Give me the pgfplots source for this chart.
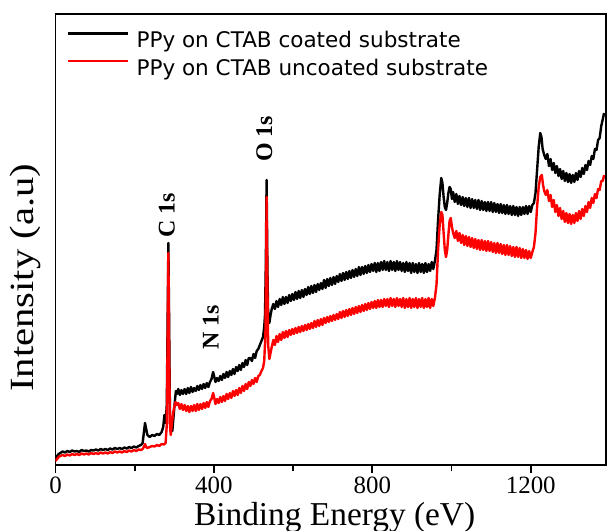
\documentclass[border=0pt]{standalone}
\usepackage{pgfplots}
\pgfplotsset{compat=1.18}
\usepackage{graphicx}
\usepackage{fontspec}
\setmainfont{Liberation Serif}
\newfontfamily\legfont{DejaVu Sans}
\begin{document}
\begin{tikzpicture}
\begin{axis}[
  at={(0,0)}, anchor=origin,
  scale only axis,
  width=550.5bp, height=451bp,
  xmin=0, xmax=1390, ymin=0, ymax=451,
  xtick={0,400,800,1200},
  minor xtick={200,600,1000},
  ytick=\empty,
  xtick pos=bottom,
  tick align=outside,
  major tick length=8bp,
  minor tick length=6bp,
  every tick/.style={line width=1.8bp,black},
  axis line style={line width=1.8bp},
  /pgf/number format/assume math mode=true,
  /pgf/number format/1000 sep={},
  xticklabel style={font=\fontsize{25}{25}\selectfont},
  every axis x label/.style={at={(axis description cs:0.507,0)},anchor=base,yshift=-60bp},
  every axis y label/.style={at={(axis description cs:-0.0554,0.415)},anchor=center,rotate=90},
  xlabel={\fontsize{33.5}{33.5}\selectfont Binding Energy (eV)},
  ylabel={\fontsize{34}{34}\selectfont\scalebox{1.2}[1]{Intensity (a.u)}},
  legend style={at={(axis description cs:0.0154,0.966)},anchor=north west,draw=none,fill=none,
    font=\legfont\fontsize{21.6}{21.6}\selectfont,row sep=10bp,
    nodes={inner sep=0bp}, column sep=7bp},
  legend cell align=left,
  legend image code/.code={\draw[#1,line width=2.4bp] (0bp,7bp)--(60bp,7bp);},
]
\addplot[black,line width=2.4bp,line join=round] coordinates {
(0,7)(4,9)(8,11)(12,12)(18,13.5)(24,12.5)(30,14)(36,13)(42,14.5)(48,13.5)(54,14)(60,13)(66,15)(72,14)(78,14.5)(84,13.5)(90,15)(96,14.5)(102,15.5)(108,14.5)(114,16)(120,15)(126,16)(132,15)(138,16.5)(144,15.5)(150,17)(156,16)(162,17)(168,16)(174,17.5)(180,16.5)(186,18)(192,17)(198,18.5)(204,17.5)(210,19)(216,20)(220,22)(223,32)(226,42)(229,36)(232,30)(238,28)(244,30)(250,29)(256,31)(262,30)(268,33)(272,38)(275,50)(278,42)(281,60)(283,140)(285,222)(287,140)(289,50)(292,38)(295,34)(298,48)(301,62)(304,74)(307,71)(310,76)(314,70)(318,75)(322,71)(326,76)(330,71)(334,77)(338,72)(342,78)(346,73)(350,77)(354,74)(358,79)(362,75)(366,80)(370,76)(374,81)(378,77)(382,82)(386,78)(390,83)(394,86)(398,93)(401,88)(404,83)(408,87)(412,84)(416,89)(420,85)(424,91)(428,87)(432,93)(436,88)(440,94)(444,90)(448,96)(452,91)(456,98)(460,94)(464,100)(468,95)(472,102)(476,98)(480,105)(484,100)(488,107)(492,107)(496,104)(500,111)(504,107)(508,114)(512,116)(516,120)(520,124)(524,128)(527,138)(529,150)(531,200)(533,285)(535,200)(537,148)(540,142)(543,150)(546,156)(550,161)(554,156)(558,164)(562,158)(566,166)(570,160)(574,168)(578,161)(582,168)(586,162)(590,170)(594,164)(598,171)(602,165)(606,173)(610,166)(614,174)(618,167)(622,175)(626,168)(630,176)(634,170)(638,178)(642,171)(646,179)(650,172)(654,180)(658,173)(662,181)(666,175)(670,182)(674,176)(678,185)(682,177)(686,186)(690,179)(694,187)(698,180)(702,188)(706,181)(710,189)(714,183)(718,191)(722,184)(726,192)(730,185)(734,193)(738,186)(742,194)(746,187)(750,195)(754,188)(758,196)(762,189)(766,198)(770,190)(774,198)(778,191)(782,199)(786,192)(790,200)(794,193)(798,201)(802,194)(806,202)(810,193)(814,202)(818,194)(822,203)(826,195)(830,204)(834,195)(838,203)(842,194)(846,204)(850,195)(854,203)(858,194)(862,204)(866,195)(870,203)(874,194)(878,202)(882,193)(886,203)(890,194)(894,202)(898,192)(902,202)(906,193)(910,201)(914,192)(918,202)(922,193)(926,201)(930,192)(934,202)(938,193)(942,201)(946,194)(950,203)(954,196)(958,204)(962,215)(966,245)(970,270)(974,287)(977,282)(980,268)(983,258)(986,255)(989,262)(992,272)(995,278)(998,276)(1001,266)(1004,273)(1008,263)(1012,271)(1016,261)(1020,269)(1024,260)(1028,268)(1032,259)(1036,267)(1040,258)(1044,267)(1048,257)(1052,266)(1056,257)(1060,265)(1064,256)(1068,265)(1072,255)(1076,264)(1080,255)(1084,263)(1088,254)(1092,263)(1096,254)(1100,263)(1104,253)(1108,262)(1112,253)(1116,261)(1120,252)(1124,261)(1128,252)(1132,260)(1136,251)(1140,260)(1144,251)(1148,259)(1152,250)(1156,259)(1160,250)(1164,258)(1168,249)(1172,258)(1176,250)(1180,258)(1184,251)(1188,259)(1192,251)(1196,259)(1200,253)(1204,260)(1208,262)(1212,272)(1216,295)(1220,318)(1224,332)(1227,328)(1230,316)(1234,310)(1238,306)(1242,311)(1246,299)(1250,306)(1254,295)(1258,302)(1262,292)(1266,299)(1270,289)(1274,296)(1278,286)(1282,294)(1286,284)(1290,292)(1294,283)(1298,291)(1302,282)(1306,290)(1310,283)(1314,292)(1318,285)(1322,294)(1326,288)(1330,297)(1334,291)(1338,300)(1342,295)(1346,304)(1350,300)(1354,309)(1358,306)(1362,316)(1366,315)(1370,325)(1374,327)(1378,339)(1382,346)(1385,352)
};
\addlegendentry{PPy on CTAB coated substrate}
\addplot[red,line width=2.4bp,line join=round] coordinates {
(0,4)(4,6)(8,8)(12,9)(18,10)(24,9)(30,10.5)(36,9.5)(42,11)(48,10)(54,11)(60,10)(66,11.5)(72,10.5)(78,11.5)(84,10.5)(90,12)(96,11)(102,12)(108,11)(114,12.5)(120,11.5)(126,12.5)(132,11.5)(138,13)(144,12)(150,13.5)(156,12.5)(162,13.5)(168,12.5)(174,14)(180,13)(186,14.5)(192,13.5)(198,15)(204,14)(210,15.5)(216,15)(220,16)(223,18)(226,21)(229,18)(232,17)(238,18)(244,19)(250,18.5)(256,20)(262,19)(268,21)(274,20.5)(278,22)(281,40)(283,120)(285,212)(287,110)(289,40)(291,30)(294,42)(297,52)(300,58)(303,63)(306,60)(310,62)(314,56)(318,61)(322,55)(326,60)(330,54)(334,59)(338,53)(342,59)(346,54)(350,60)(354,54)(358,61)(362,55)(366,61)(370,56)(374,62)(378,57)(382,63)(386,58)(390,64)(394,66)(398,72)(401,67)(404,61)(408,66)(412,62)(416,68)(420,63)(424,69)(428,64)(432,71)(436,66)(440,72)(444,67)(448,74)(452,69)(456,75)(460,70)(464,77)(468,72)(472,79)(476,74)(480,81)(484,76)(488,83)(492,79)(496,85)(500,81)(504,87)(508,83)(512,89)(516,90)(520,94)(524,97)(527,104)(530,130)(532,200)(533,268)(535,180)(537,120)(540,106)(543,112)(546,118)(550,125)(554,120)(558,129)(562,123)(566,131)(570,125)(574,133)(578,127)(582,134)(586,128)(590,135)(594,130)(598,136)(602,131)(606,137)(610,132)(614,138)(618,133)(622,139)(626,134)(630,140)(634,135)(638,141)(642,136)(646,142)(650,137)(654,144)(658,138)(662,145)(666,139)(670,146)(674,140)(678,147)(682,142)(686,148)(690,143)(694,149)(698,144)(702,150)(706,145)(710,151)(714,146)(718,153)(722,147)(726,154)(730,148)(734,155)(738,149)(742,156)(746,150)(750,157)(754,151)(758,158)(762,152)(766,159)(770,153)(774,160)(778,154)(782,161)(786,155)(790,162)(794,156)(798,163)(802,157)(806,164)(810,157)(814,165)(818,158)(822,165)(826,158)(830,166)(834,159)(838,166)(842,158)(846,167)(850,159)(854,166)(858,158)(862,167)(866,159)(870,166)(874,158)(878,167)(882,157)(886,166)(890,158)(894,167)(898,157)(902,166)(906,158)(910,167)(914,157)(918,166)(922,158)(926,167)(930,157)(934,166)(938,158)(942,167)(946,157)(950,166)(954,159)(958,167)(962,180)(966,215)(970,240)(974,253)(977,250)(980,232)(983,215)(986,208)(989,215)(992,230)(995,244)(998,247)(1001,238)(1004,232)(1008,227)(1012,234)(1016,224)(1020,232)(1024,222)(1028,230)(1032,220)(1036,229)(1040,219)(1044,228)(1048,218)(1052,227)(1056,217)(1060,226)(1064,216)(1068,225)(1072,215)(1076,225)(1080,215)(1084,224)(1088,214)(1092,224)(1096,214)(1100,223)(1104,213)(1108,222)(1112,212)(1116,222)(1120,212)(1124,221)(1128,211)(1132,220)(1136,210)(1140,220)(1144,210)(1148,219)(1152,209)(1156,218)(1160,208)(1164,218)(1168,208)(1172,217)(1176,207)(1180,216)(1184,207)(1188,215)(1192,206)(1196,214)(1200,207)(1204,213)(1208,218)(1212,232)(1216,258)(1220,278)(1224,288)(1228,290)(1231,280)(1234,274)(1238,270)(1242,275)(1246,264)(1250,270)(1254,258)(1258,265)(1262,253)(1266,260)(1270,249)(1274,257)(1278,246)(1282,254)(1286,243)(1290,252)(1294,242)(1298,251)(1302,241)(1306,250)(1310,242)(1314,252)(1318,244)(1322,254)(1326,246)(1330,256)(1334,249)(1338,259)(1342,253)(1346,263)(1350,257)(1354,267)(1358,262)(1362,271)(1366,267)(1370,276)(1374,275)(1378,284)(1382,284)(1385,290)
};
\addlegendentry{PPy on CTAB uncoated substrate}
\node[rotate=90,font=\bfseries\fontsize{24}{24}\selectfont] at (axis cs:281,250) {C 1s};
\node[rotate=90,font=\bfseries\fontsize{24}{24}\selectfont] at (axis cs:392,138) {N 1s};
\node[rotate=90,font=\bfseries\fontsize{24}{24}\selectfont] at (axis cs:527,326) {O 1s};
\end{axis}
\pgfresetboundingbox
\path (-55.5bp,-66bp) rectangle (553.5bp,465bp);
\end{tikzpicture}
\end{document}
